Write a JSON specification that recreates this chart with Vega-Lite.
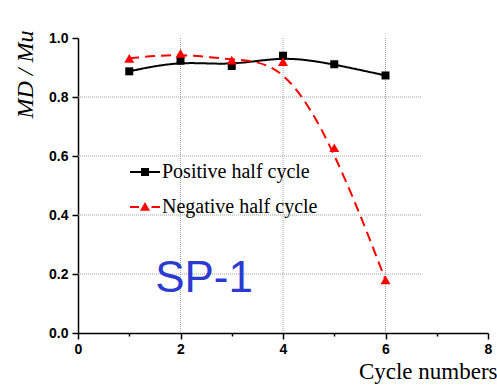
{
  "$schema": "https://vega.github.io/schema/vega-lite/v6.json",
  "width": 410,
  "height": 295,
  "autosize": "none",
  "padding": {"left": 78, "top": 38, "right": 9, "bottom": 52},
  "background": "white",
  "config": {"view": {"stroke": null}},
  "resolve": {
    "scale": {"color": "independent", "shape": "independent", "size": "independent", "strokeDash": "independent"},
    "legend": {"color": "independent", "shape": "independent"}
  },
  "datasets": {
    "main": [
      {"x": 1, "y": 0.887, "series": "Positive half cycle"},
      {"x": 2, "y": 0.923, "series": "Positive half cycle"},
      {"x": 3, "y": 0.905, "series": "Positive half cycle"},
      {"x": 4, "y": 0.940, "series": "Positive half cycle"},
      {"x": 5, "y": 0.911, "series": "Positive half cycle"},
      {"x": 6, "y": 0.873, "series": "Positive half cycle"},
      {"x": 1, "y": 0.931, "series": "Negative half cycle"},
      {"x": 2, "y": 0.948, "series": "Negative half cycle"},
      {"x": 3, "y": 0.925, "series": "Negative half cycle"},
      {"x": 4, "y": 0.920, "series": "Negative half cycle"},
      {"x": 5, "y": 0.628, "series": "Negative half cycle"},
      {"x": 6, "y": 0.180, "series": "Negative half cycle"}
    ]
  },
  "layer": [
    {
      "data": {"values": [{"y": 0.2}, {"y": 0.4}, {"y": 0.6}, {"y": 0.8}]},
      "mark": {"type": "rule", "color": "#a0a0a0", "strokeDash": [1, 1], "strokeWidth": 1},
      "encoding": {
        "y": {"field": "y", "type": "quantitative", "title": "MD / Mu"},
        "x": {"datum": 0, "type": "quantitative", "title": "Cycle numbers"},
        "x2": {"datum": 6.7}
      }
    },
    {
      "data": {"values": [{"x": 2}, {"x": 4}, {"x": 6}]},
      "mark": {"type": "rule", "color": "#a0a0a0", "strokeDash": [1, 1], "strokeWidth": 1},
      "encoding": {
        "x": {"field": "x", "type": "quantitative", "title": "Cycle numbers"},
        "y": {"datum": 0, "type": "quantitative", "title": "MD / Mu"},
        "y2": {"datum": 1}
      }
    },
    {
      "data": {"name": "main"},
      "mark": {"type": "line", "interpolate": "basis", "strokeWidth": 2},
      "encoding": {
        "x": {
          "field": "x", "type": "quantitative",
          "scale": {"domain": [0, 8], "nice": false},
          "title": "Cycle numbers",
          "axis": {
            "values": [0, 1, 2, 3, 4, 5, 6, 7, 8],
            "format": "d",
            "labelExpr": "datum.value % 2 == 0 ? datum.label : ''",
            "tickSize": {"condition": {"test": "datum.value % 2 == 0", "value": 6}, "value": 3},
            "grid": false,
            "domainColor": "black", "domainWidth": 1.5,
            "tickColor": "black", "tickWidth": 1.5,
            "labelFont": "Liberation Sans", "labelFontWeight": "bold", "labelFontSize": 14,
            "labelColor": "black", "labelPadding": 3, "labelFlush": false, "labelOverlap": false,
            "titleFont": "Liberation Serif", "titleFontSize": 23, "titleFontWeight": "normal",
            "titleColor": "black", "titleAnchor": "end", "titleAlign": "right",
            "titleX": 419, "titleY": 45, "titleBaseline": "alphabetic"
          }
        },
        "y": {
          "field": "y", "type": "quantitative",
          "scale": {"domain": [0, 1], "nice": false},
          "title": "MD / Mu",
          "axis": {
            "values": [0, 0.1, 0.2, 0.3, 0.4, 0.5, 0.6, 0.7, 0.8, 0.9, 1.0],
            "format": ".1f",
            "labelExpr": "round(datum.value * 10) % 2 == 0 ? datum.label : ''",
            "tickSize": {"condition": {"test": "round(datum.value * 10) % 2 == 0", "value": 6}, "value": 3},
            "grid": false,
            "domainColor": "black", "domainWidth": 1.5,
            "tickColor": "black", "tickWidth": 1.5,
            "labelFont": "Liberation Sans", "labelFontWeight": "bold", "labelFontSize": 14,
            "labelColor": "black", "labelPadding": 4, "labelFlush": false, "labelOverlap": false,
            "titleFont": "Liberation Serif", "titleFontSize": 24, "titleFontWeight": "normal",
            "titleFontStyle": "italic", "titleColor": "black",
            "titleAngle": -90, "titleAlign": "center", "titleBaseline": "middle",
            "titleX": -53, "titleY": 36
          }
        },
        "color": {
          "field": "series", "type": "nominal",
          "scale": {"domain": ["Positive half cycle", "Negative half cycle"], "range": ["#000000", "#ff0000"]},
          "legend": null
        },
        "strokeDash": {
          "field": "series", "type": "nominal",
          "scale": {"domain": ["Positive half cycle", "Negative half cycle"], "range": [[1, 0], [10, 6]]},
          "legend": null
        }
      }
    },
    {
      "data": {"name": "main"},
      "mark": {"type": "point", "filled": true, "opacity": 1},
      "encoding": {
        "x": {"field": "x", "type": "quantitative", "title": "Cycle numbers"},
        "y": {"field": "y", "type": "quantitative", "title": "MD / Mu"},
        "color": {
          "field": "series", "type": "nominal",
          "scale": {"domain": ["Positive half cycle", "Negative half cycle"], "range": ["#000000", "#ff0000"]},
          "legend": null
        },
        "shape": {
          "field": "series", "type": "nominal",
          "scale": {"domain": ["Positive half cycle", "Negative half cycle"], "range": ["square", "triangle-up"]},
          "legend": null
        },
        "size": {
          "field": "series", "type": "nominal",
          "scale": {"domain": ["Positive half cycle", "Negative half cycle"], "range": [64, 100]},
          "legend": null
        }
      }
    },
    {
      "data": {"name": "main"},
      "transform": [{"filter": "false"}],
      "mark": {"type": "point", "filled": true, "opacity": 1, "size": 400},
      "encoding": {
        "x": {"field": "x", "type": "quantitative", "title": "Cycle numbers"},
        "y": {"field": "y", "type": "quantitative", "title": "MD / Mu"},
        "color": {
          "field": "series", "type": "nominal",
          "scale": {"domain": ["Positive half cycle", "Negative half cycle"], "range": ["#000000", "#ff0000"]},
          "legend": {
            "title": null, "orient": "none", "legendX": 57, "legendY": 124, "padding": 0,
            "symbolSize": 400, "symbolOffset": 0, "labelOffset": 7, "rowPadding": 15,
            "symbolStrokeWidth": 0, "symbolOpacity": 1,
            "labelFont": "Liberation Serif", "labelFontSize": 20, "labelColor": "black", "labelLimit": 400
          }
        },
        "shape": {
          "field": "series", "type": "nominal",
          "scale": {
            "domain": ["Positive half cycle", "Negative half cycle"],
            "range": [
              "M-1.5,-0.1H1.5V0.1H-1.5Z M-0.4,-0.4H0.4V0.4H-0.4Z",
              "M-1.5,-0.1H-0.6V0.1H-1.5Z M0,-0.5L0.5,0.37H-0.5Z M0.65,-0.1H1.5V0.1H0.65Z"
            ]
          },
          "legend": {
            "title": null, "orient": "none", "legendX": 57, "legendY": 124, "padding": 0,
            "symbolSize": 400, "symbolOffset": 0, "labelOffset": 7, "rowPadding": 15,
            "symbolStrokeWidth": 0, "symbolOpacity": 1,
            "labelFont": "Liberation Serif", "labelFontSize": 20, "labelColor": "black", "labelLimit": 400
          }
        }
      }
    },
    {
      "data": {"values": [{"label": "SP-1"}]},
      "mark": {"type": "text", "font": "Liberation Sans", "fontSize": 44, "color": "#2b3bd0", "align": "center", "baseline": "middle"},
      "encoding": {
        "x": {"datum": 2.46, "type": "quantitative"},
        "y": {"datum": 0.183, "type": "quantitative"},
        "text": {"field": "label"}
      }
    }
  ]
}
